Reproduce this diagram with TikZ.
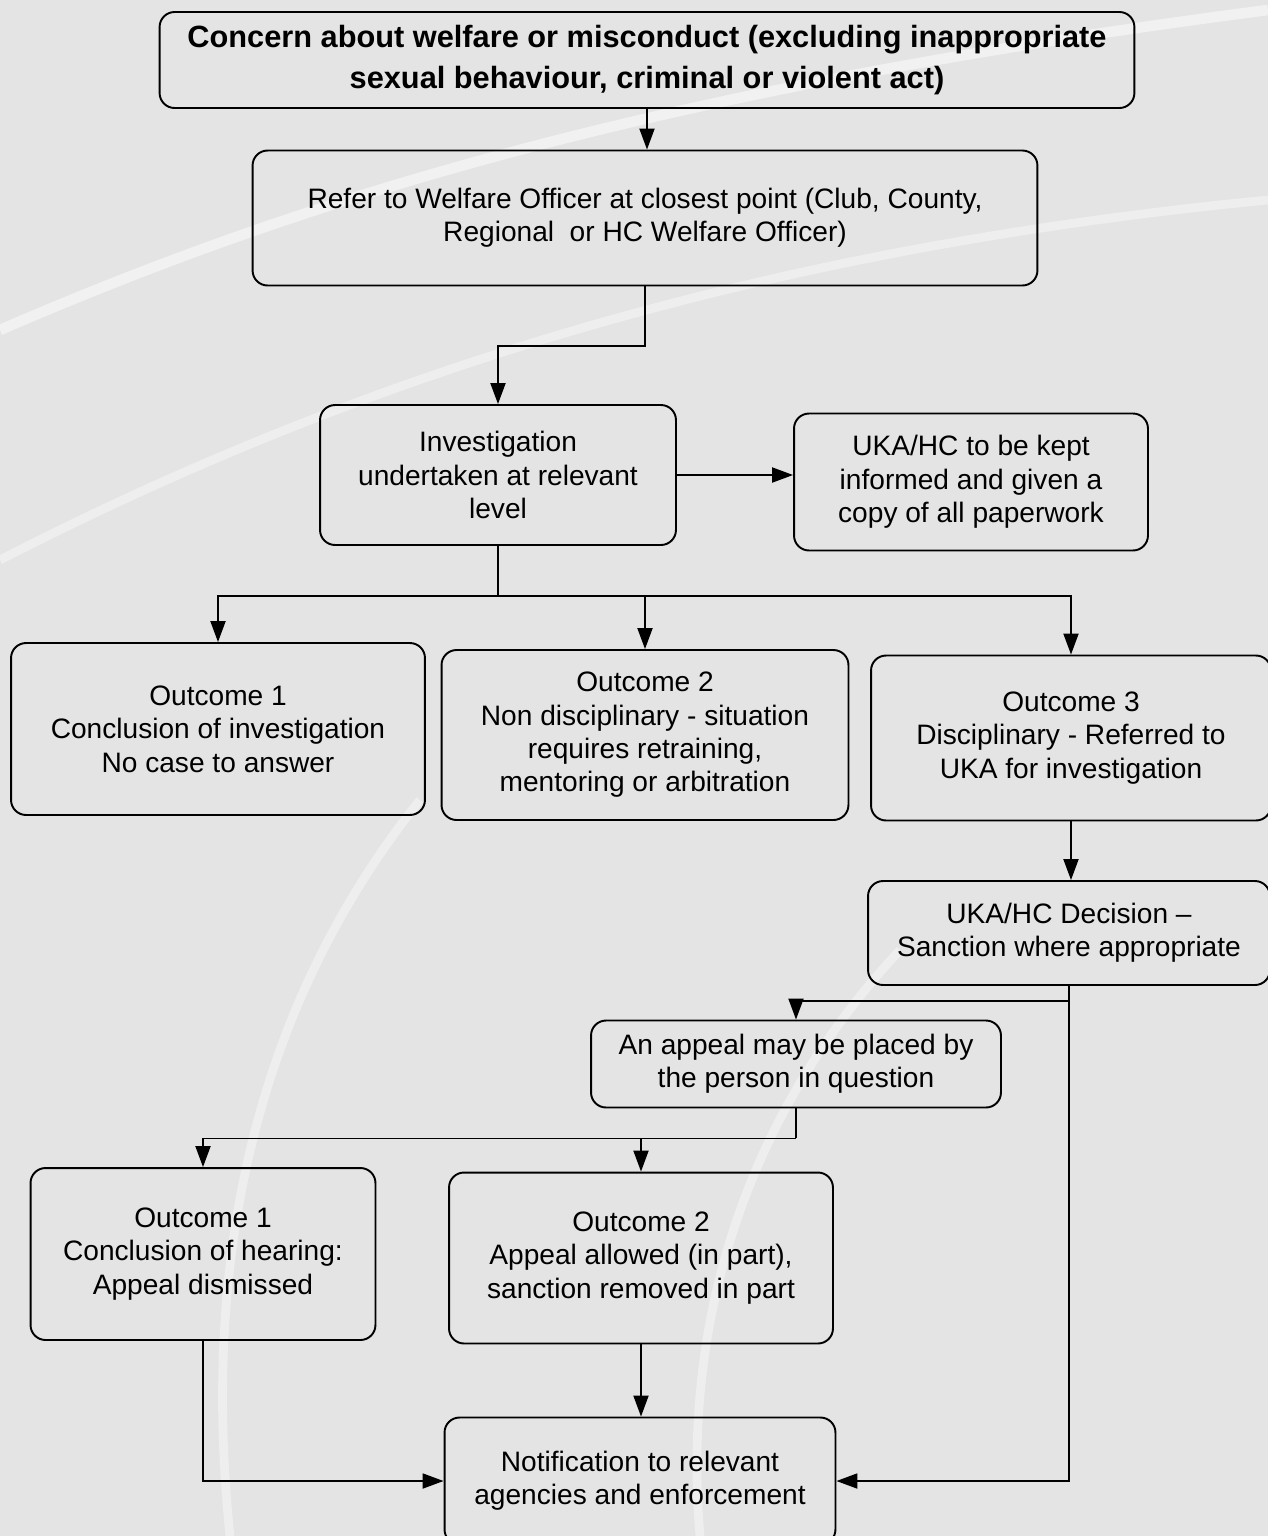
\documentclass[tikz,border=0pt]{standalone}
\usepackage{fontspec}
\setmainfont{Liberation Sans}
\usetikzlibrary{arrows.meta}

\definecolor{scangrey}{HTML}{E4E4E4}

\begin{document}
\begin{tikzpicture}[x=0.02cm, y=-0.02cm,
  box/.style={draw, line width=1.1pt, rounded corners=0.3cm, align=center,
    inner sep=0pt, font=\fontsize{16}{19}\selectfont},
  arr/.style={line width=1.1pt, -{Triangle[length=0.42cm, width=0.3cm]}},
  link/.style={line width=1.1pt}]

\useasboundingbox (0, 0) rectangle (1268, 1536);
\fill[scangrey] (0, 0) rectangle (1268, 1536);

% background swooshes
\draw[white, opacity=0.5, line width=6pt] (0, 330) .. controls (300, 200) and (650, 90) .. (1268, 10);
\draw[white, opacity=0.4, line width=5pt] (0, 560) .. controls (350, 380) and (750, 250) .. (1268, 200);
\draw[white, opacity=0.4, line width=5pt] (230, 1536) .. controls (200, 1250) and (260, 1000) .. (420, 800);
\draw[white, opacity=0.4, line width=5pt] (700, 1536) .. controls (680, 1300) and (760, 1100) .. (900, 950);

% boxes
\node[box, minimum width=19.5cm, minimum height=1.92cm,
  font=\fontsize{17.5}{23}\selectfont\bfseries] (concern) at (647, 60)
  {Concern about welfare or misconduct (excluding inappropriate\\ sexual behaviour, criminal or violent act)};
\node[box, minimum width=15.7cm, minimum height=2.7cm] (refer) at (645, 218)
  {Refer to Welfare Officer at closest point (Club, County,\\ Regional\ \ or HC Welfare Officer)};
\node[box, minimum width=7.12cm, minimum height=2.8cm] (invest) at (498, 475)
  {Investigation\\ undertaken at relevant\\ level};
\node[box, minimum width=7.08cm, minimum height=2.74cm] (kept) at (971, 482)
  {UKA/HC to be kept\\ informed and given a\\ copy of all paperwork};

\node[box, minimum width=8.28cm, minimum height=3.44cm] (out1) at (218, 729)
  {Outcome 1\\ Conclusion of investigation\\ No case to answer};
\node[box, minimum width=8.14cm, minimum height=3.4cm] (out2) at (645, 735)
  {Outcome 2\\ Non disciplinary - situation\\ requires retraining,\\ mentoring or arbitration};
\node[box, minimum width=8.0cm, minimum height=3.3cm] (out3) at (1071, 738)
  {Outcome 3\\ Disciplinary - Referred to\\ UKA for investigation};

\node[box, minimum width=8.04cm, minimum height=2.08cm] (decision) at (1069, 933)
  {UKA/HC Decision --\\ Sanction where appropriate};
\node[box, minimum width=8.2cm, minimum height=1.74cm] (appeal) at (796, 1064)
  {An appeal may be placed by\\ the person in question};

\node[box, minimum width=6.9cm, minimum height=3.44cm] (hear1) at (203, 1254)
  {Outcome 1\\ Conclusion of hearing:\\ Appeal dismissed};
\node[box, minimum width=7.68cm, minimum height=3.42cm] (hear2) at (641, 1258)
  {Outcome 2\\ Appeal allowed (in part),\\ sanction removed in part};
\node[box, minimum width=7.82cm, minimum height=2.54cm] (notify) at (640, 1481)
  {Notification to relevant\\ agencies and enforcement};

% connectors
\draw[arr] (concern.south) -- (concern.south |- refer.north);
\draw[arr] (refer.south) -- ++(0, 60) -| (invest.north);
\draw[arr] (invest.east) -- (invest.east -| kept.west);

\draw[link] (invest.south) -- ++(0, 50) coordinate (split);
\draw[arr] (split) -| (out1.north);
\draw[arr] (split) -| (out3.north);
\draw[arr] (out2.north |- split) -- (out2.north);

\draw[arr] (out3.south) -- (out3.south |- decision.north);
\draw[link] (decision.south) -- ++(0, 15) coordinate (fork);
\draw[arr] (fork) -| (appeal.north);
\draw[arr] (decision.south) |- (notify.east);

\draw[link] (appeal.south) -- ++(0, 30) coordinate (branch);
\draw[arr] (branch) -| (hear1.north);
\draw[arr] (hear2.north |- branch) -- (hear2.north);

\draw[arr] (hear1.south) |- (notify.west);
\draw[arr] (hear2.south) -- (hear2.south |- notify.north);
\end{tikzpicture}
\end{document}
